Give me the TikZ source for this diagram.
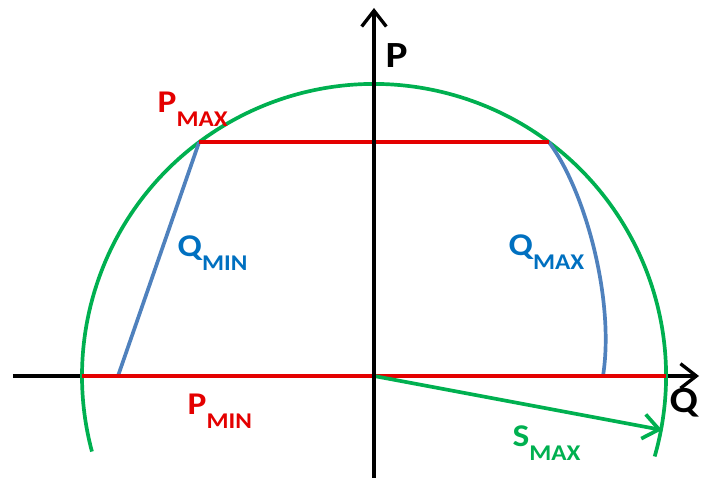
\documentclass[tikz,border=0pt]{standalone}
\usepackage{fontspec}
\setmainfont{Carlito}
\newfontfamily\lblfont[FakeStretch=1.12]{Carlito}
\usepackage{xcolor}
\usepackage{tikz}
\usetikzlibrary{arrows.meta}
\definecolor{pred}{RGB}{228,0,0}
\definecolor{sgreen}{RGB}{0,176,80}
\definecolor{qline}{RGB}{79,129,189}
\definecolor{qtext}{RGB}{0,112,192}
\newcommand{\sublbl}[2]{{\fontsize{9}{10}\selectfont #1}\raisebox{-3.8pt}{\fontsize{6.4}{7}\selectfont #2}}

\begin{document}
\begin{tikzpicture}[>={Straight Barb[length=4.5pt,width=7pt]},
    axis/.style={line width=0.95pt},
    curve/.style={line width=1.05pt},
    lbl/.style={inner sep=0pt,anchor=base west,font=\lblfont\bfseries}]
    \useasboundingbox (-3.74,-1.04) rectangle (3.28,3.76);
    \coordinate (O) at (0,0);
    \coordinate (xl) at (-3.61,0);
    \coordinate (xr) at (3.25,0);
    \coordinate (yb) at (0,-1.02);
    \coordinate (yt) at (0,3.68);
    \coordinate (amax) at (126.8:2.92);
    \coordinate (bmax) at (53.2:2.92);
    \coordinate (amin) at (-2.92,0);
    \coordinate (bmin) at (2.92,0);
    \coordinate (qmin) at (-2.56,0);
    \coordinate (qmax) at (2.29,0);
    \coordinate (smax) at (2.88,-0.54);
    \draw[axis,->] (xl)--(xr);
    \draw[curve,sgreen] (-16:2.92) arc[start angle=-16,end angle=195,radius=2.92];
    \draw[curve,qline] (amax)--(qmin);
    \draw[curve,qline] (bmax) .. controls (2.11,1.86) and (2.41,0.76) .. (qmax);
    \draw[curve,pred] (amax)--(bmax);
    \draw[curve,pred] (amin)--(bmin);
    \draw[curve,sgreen,->] (O)--(smax);
    \draw[axis,->] (yb)--(yt);
    \node[lbl,font=\lblfont\bfseries\fontsize{10.5}{12}\selectfont] (plbl) at (0.11,3.08) {P};
    \node[lbl,font=\lblfont\bfseries\fontsize{10.5}{12}\selectfont] (qlbl) at (2.95,-0.37) {Q};
    \node[lbl,pred] (pmaxlbl) at (-2.17,2.63) {\sublbl{P}{MAX}};
    \node[lbl,qtext] (qminlbl) at (-1.97,1.19) {\sublbl{Q}{MIN}};
    \node[lbl,qtext] (qmaxlbl) at (1.34,1.20) {\sublbl{Q}{MAX}};
    \node[lbl,pred] (pminlbl) at (-1.87,-0.39) {\sublbl{P}{MIN}};
    \node[lbl,sgreen] (smaxlbl) at (1.38,-0.71) {\sublbl{S}{MAX}};
  \end{tikzpicture}
\end{document}
